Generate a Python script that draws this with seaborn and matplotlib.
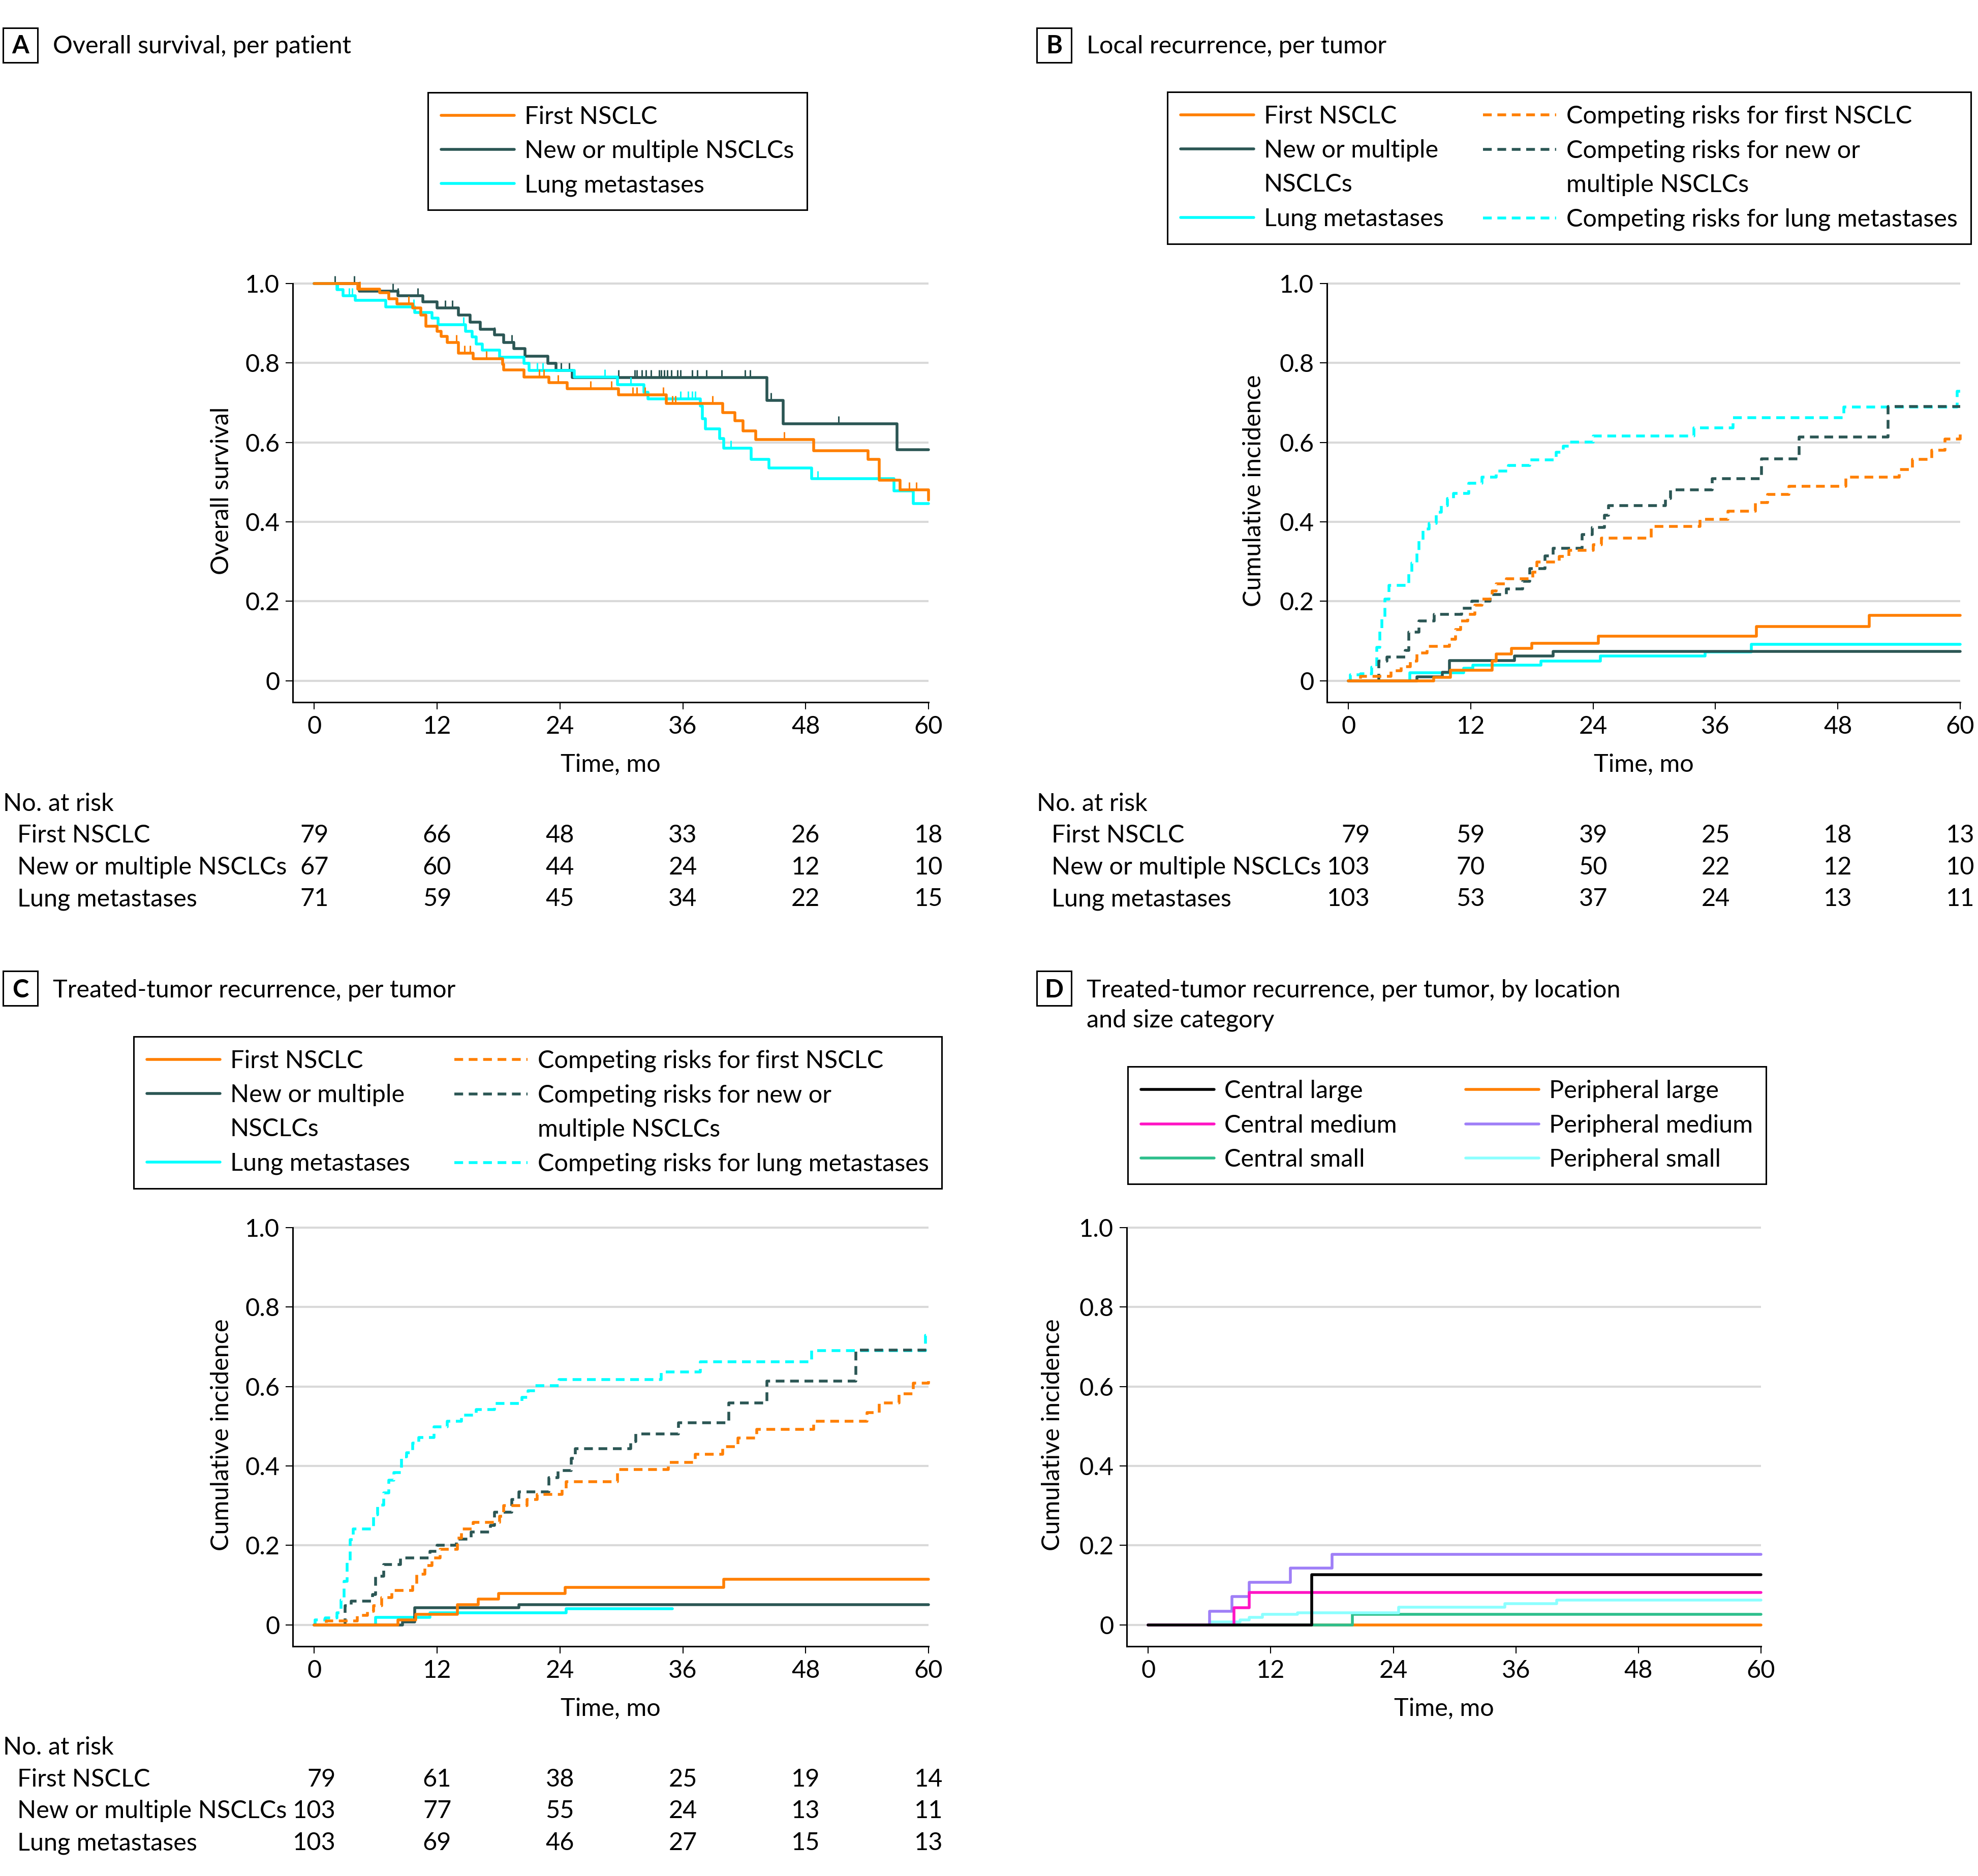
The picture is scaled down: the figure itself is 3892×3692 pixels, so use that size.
# ==============================
# 1. IMPORTS
# ==============================
import numpy as np
import matplotlib
matplotlib.use("Agg")
import matplotlib.pyplot as plt
import matplotlib.transforms as mtransforms
from matplotlib.lines import Line2D
from matplotlib.patches import Rectangle
import seaborn as sns

sns.set_theme(style="white")
plt.rcParams['font.family'] = ['Lato', 'DejaVu Sans']
plt.rcParams['text.color'] = 'black'

# ==============================
# 2. DATA
# ==============================
TICKS_X = [0, 12, 24, 36, 48, 60]
TICKS_Y = [0, 0.2, 0.4, 0.6, 0.8, 1.0]
TICK_Y_LABELS = ["0", "0.2", "0.4", "0.6", "0.8", "1.0"]
GROUPS = ["First NSCLC", "New or multiple NSCLCs", "Lung metastases"]

# A. overall survival (Kaplan-Meier), step times and survival after each step
a_first_t = [0, 4.25, 6.4, 7.3, 8.1, 9.6, 10.4, 10.9, 12.0, 12.4, 13.0, 14.1, 15.5, 18.4, 18.5,
             20.5, 22.9, 24.7, 29.7, 34.4, 39.9, 41.1, 41.9, 43.1, 48.8, 54.1, 55.2, 57.2, 60]
a_first_s = [1.0, 0.986, 0.977, 0.962, 0.948, 0.938, 0.920, 0.892, 0.879, 0.867, 0.852, 0.825, 0.811,
             0.797, 0.783, 0.765, 0.750, 0.735, 0.720, 0.698, 0.675, 0.654, 0.629, 0.607, 0.579,
             0.557, 0.505, 0.481, 0.455]
a_first_cens = [4.45, 9.2, 13.9, 14.7, 15.2, 16.8, 22.0, 22.4, 23.8, 27.0, 29.0, 31.1, 31.5, 32.3,
                34.1, 35.0, 35.3, 38.9, 45.9, 55.2, 58.1, 58.8]

a_new_t = [0, 4.4, 8.2, 10.6, 12.0, 14.1, 15.2, 16.2, 17.6, 18.5, 19.5, 20.6, 22.8, 23.6, 25.2,
           44.2, 45.8, 56.9, 60]
a_new_s = [1.0, 0.981, 0.969, 0.954, 0.938, 0.920, 0.903, 0.885, 0.870, 0.851, 0.836, 0.817, 0.799,
           0.781, 0.763, 0.706, 0.647, 0.582, 0.582]
a_new_cens = [2.0, 3.9, 7.7, 8.2, 10.1, 12.8, 13.5, 17.6, 19.3, 19.5, 24.1, 24.9, 29.7, 31.3, 31.5,
              32.0, 32.4, 32.9, 33.7, 33.9, 34.2, 34.5, 34.9, 35.5, 35.8, 36.9, 37.4, 38.3, 39.8,
              42.1, 42.6, 44.6, 51.2]

a_lung_t = [0, 2.2, 2.8, 4.0, 7.0, 9.8, 11.5, 12.1, 14.8, 15.4, 15.8, 16.4, 18.1, 20.5, 21.0, 25.4,
            29.6, 32.2, 32.6, 37.7, 37.9, 38.2, 39.6, 40.0, 42.7, 44.4, 48.6, 56.6, 58.5, 60]
a_lung_s = [1.0, 0.985, 0.969, 0.957, 0.941, 0.927, 0.913, 0.896, 0.879, 0.865, 0.847, 0.832, 0.814,
            0.799, 0.781, 0.765, 0.745, 0.726, 0.709, 0.691, 0.660, 0.634, 0.610, 0.585, 0.557,
            0.535, 0.509, 0.478, 0.446, 0.446]
a_lung_cens = [2.3, 3.4, 3.7, 9.7, 14.6, 21.8, 22.3, 28.4, 30.9, 35.8, 36.5, 36.9, 37.2, 40.7,
               49.2, 58.1]

a_risk_first = [79, 66, 48, 33, 26, 18]
a_risk_new = [67, 60, 44, 24, 12, 10]
a_risk_lung = [71, 59, 45, 34, 22, 15]

# B. local recurrence, cumulative incidence
b_first_t = [0, 8.35, 10.0, 14.1, 14.5, 16.0, 18.0, 24.5, 40.0, 51.1, 60]
b_first_y = [0, 0.009, 0.027, 0.049, 0.067, 0.082, 0.094, 0.112, 0.137, 0.165, 0.165]
b_new_t = [0, 6.7, 9.2, 9.9, 16.3, 20.1, 60]
b_new_y = [0, 0.010, 0.022, 0.051, 0.063, 0.074, 0.074]
b_lung_t = [0, 6.0, 11.3, 12.2, 18.9, 24.7, 35.0, 39.5, 60]
b_lung_y = [0, 0.020, 0.032, 0.039, 0.049, 0.062, 0.072, 0.092, 0.092]

b_cr_first_t = [0, 1.2, 4.2, 5.2, 6.05, 6.7, 7.7, 9.9, 10.5, 11.0, 11.7, 12.4, 13.1, 14.1, 14.5,
                15.5, 18.1, 18.5, 20.7, 21.6, 24.0, 24.8, 29.7, 34.5, 37.2, 39.9, 41.1, 43.2, 48.8,
                54.0, 55.3, 57.2, 58.5, 60]
b_cr_first_y = [0, 0.011, 0.025, 0.035, 0.049, 0.070, 0.087, 0.105, 0.129, 0.150, 0.167, 0.190,
                0.205, 0.226, 0.244, 0.257, 0.273, 0.299, 0.313, 0.328, 0.342, 0.359, 0.389, 0.407,
                0.427, 0.448, 0.469, 0.490, 0.513, 0.532, 0.557, 0.580, 0.608, 0.624]
b_cr_new_t = [0, 3.0, 3.8, 5.6, 5.9, 6.9, 8.4, 11.1, 12.1, 13.9, 15.5, 17.1, 17.8, 19.3, 20.1,
              22.9, 23.9, 25.1, 25.5, 31.1, 31.6, 35.7, 40.5, 44.2, 52.9, 60]
b_cr_new_y = [0, 0.049, 0.060, 0.077, 0.122, 0.150, 0.167, 0.183, 0.201, 0.217, 0.231, 0.251,
              0.282, 0.314, 0.334, 0.368, 0.386, 0.417, 0.441, 0.459, 0.481, 0.509, 0.559, 0.613,
              0.690, 0.690]
b_cr_lung_t = [0, 0.2, 1.2, 2.3, 2.8, 3.1, 3.3, 3.6, 4.0, 5.9, 6.2, 6.7, 6.9, 7.3, 7.9, 8.6, 9.1,
               9.7, 10.3, 11.8, 13.1, 14.5, 15.7, 17.8, 20.4, 21.1, 21.7, 24.0, 33.9, 37.7, 48.6,
               59.7, 60]
b_cr_lung_y = [0, 0.015, 0.018, 0.034, 0.084, 0.126, 0.160, 0.205, 0.240, 0.271, 0.296, 0.323,
               0.355, 0.382, 0.396, 0.424, 0.441, 0.459, 0.471, 0.497, 0.513, 0.528, 0.542, 0.556,
               0.575, 0.591, 0.601, 0.616, 0.636, 0.662, 0.689, 0.729, 0.729]

b_risk_first = [79, 59, 39, 25, 18, 13]
b_risk_new = [103, 70, 50, 22, 12, 10]
b_risk_lung = [103, 53, 37, 24, 13, 11]

# C. treated-tumor recurrence, cumulative incidence
c_first_t = [0, 8.2, 9.9, 14.0, 16.0, 18.0, 24.5, 40.0, 60]
c_first_y = [0, 0.013, 0.027, 0.051, 0.065, 0.079, 0.094, 0.115, 0.115]
c_new_t = [0, 8.6, 9.8, 20.0, 60]
c_new_y = [0, 0.008, 0.043, 0.051, 0.051]
c_lung_t = [0, 6.0, 11.3, 24.6, 35.0]
c_lung_y = [0, 0.019, 0.031, 0.041, 0.041]

c_cr_first_t = [0, 1.2, 4.2, 5.2, 5.8, 6.6, 7.6, 9.6, 10.0, 10.8, 11.5, 12.3, 14.0, 14.4, 15.5,
                18.1, 18.5, 20.8, 21.8, 24.2, 24.6, 29.6, 34.6, 37.2, 39.9, 41.4, 43.2, 48.8, 54.0,
                55.2, 57.1, 58.5, 60]
c_cr_first_y = [0, 0.010, 0.024, 0.034, 0.048, 0.069, 0.087, 0.103, 0.128, 0.149, 0.168, 0.190,
                0.218, 0.242, 0.258, 0.273, 0.300, 0.315, 0.329, 0.344, 0.360, 0.391, 0.409, 0.430,
                0.449, 0.470, 0.492, 0.513, 0.534, 0.558, 0.582, 0.609, 0.622]
c_cr_new_t = [0, 3.0, 3.6, 5.7, 6.0, 6.8, 8.4, 11.3, 12.0, 13.9, 15.3, 17.2, 17.6, 19.3, 20.0,
              22.9, 23.8, 25.1, 25.5, 30.9, 31.4, 35.6, 40.5, 44.2, 52.9, 60]
c_cr_new_y = [0, 0.048, 0.060, 0.077, 0.123, 0.152, 0.168, 0.185, 0.201, 0.216, 0.234, 0.251,
              0.284, 0.315, 0.335, 0.371, 0.388, 0.419, 0.443, 0.461, 0.481, 0.509, 0.559, 0.613,
              0.691, 0.691]
c_cr_lung_t = [0, 0.1, 1.1, 2.2, 2.6, 2.9, 3.2, 3.5, 3.8, 5.8, 6.2, 6.8, 7.3, 7.8, 8.5, 9.0, 9.6,
               10.2, 11.7, 13.0, 14.4, 15.8, 17.6, 20.3, 20.9, 21.6, 23.9, 33.9, 37.7, 48.6, 59.7, 60]
c_cr_lung_y = [0, 0.013, 0.017, 0.031, 0.062, 0.110, 0.159, 0.214, 0.242, 0.277, 0.301, 0.332,
               0.364, 0.384, 0.423, 0.433, 0.457, 0.471, 0.499, 0.513, 0.528, 0.542, 0.557, 0.572,
               0.589, 0.602, 0.617, 0.636, 0.662, 0.690, 0.729, 0.729]

c_risk_first = [79, 61, 38, 25, 19, 14]
c_risk_new = [103, 77, 55, 24, 13, 11]
c_risk_lung = [103, 69, 46, 27, 15, 13]

# D. treated-tumor recurrence by location and size
D_LABELS = ["Central large", "Central medium", "Central small",
            "Peripheral large", "Peripheral medium", "Peripheral small"]
d_cl_t, d_cl_y = [0, 16.0, 60], [0, 0.126, 0.126]
d_cm_t, d_cm_y = [0, 8.4, 9.9, 60], [0, 0.043, 0.081, 0.081]
d_cs_t, d_cs_y = [0, 20.0, 60], [0, 0.026, 0.026]
d_pl_t, d_pl_y = [0, 60], [0, 0]
d_pm_t = [0, 6.0, 8.2, 9.9, 13.9, 18.0, 60]
d_pm_y = [0, 0.034, 0.071, 0.107, 0.143, 0.178, 0.178]
d_ps_t = [0, 6.0, 9.0, 9.9, 11.2, 14.6, 24.5, 34.9, 40.0, 60]
d_ps_y = [0, 0.008, 0.013, 0.019, 0.026, 0.031, 0.044, 0.053, 0.063, 0.063]

# ==============================
# 3. STYLE
# ==============================
W, H = 3892, 3692
FS = 35
LW = 4
DASH = (0, (3.1, 2.0))
GRID = "#D9D9D9"
ORANGE, DARK, CYAN = "#FF7F00", "#2B5654", "#00FFFF"
D_COLORS = ["#000000", "#FF14C4", "#2EBF8C", "#FF7F00", "#9F7FF7", "#8CFFFF"]
DIGIT_MO = 1.40   # width of one digit in months, used to right-align the first risk column

fig = plt.figure(figsize=(W / 100, H / 100), dpi=100)


def fx(px):
    return px / W


def fy(py):
    return 1 - py / H


def add_axes(left, right, top, bottom):
    return fig.add_axes([fx(left), fy(bottom), (right - left) / W, (bottom - top) / H])


def style_axes(ax, ylabel, ylab_x):
    ax.set_xlim(-2.1, 60)
    ax.set_ylim(-0.054, 1.01)
    ax.set_xticks(TICKS_X)
    ax.set_yticks(TICKS_Y)
    ax.set_yticklabels(TICK_Y_LABELS)
    ax.yaxis.grid(True, color=GRID, lw=3)
    ax.xaxis.grid(False)
    ax.set_axisbelow(True)
    sns.despine(ax=ax)
    ax.spines['left'].set_bounds(-0.054, 1.0)
    for s in ('left', 'bottom'):
        ax.spines[s].set_linewidth(2.2)
        ax.spines[s].set_color('black')
    ax.tick_params(axis='both', direction='out', length=10, width=1.5, color='black',
                   pad=8.5, labelsize=FS, labelcolor='black', left=True, bottom=True)
    ax.set_xlabel("Time, mo", fontsize=FS, color='black')
    ax.set_ylabel(ylabel, fontsize=FS, color='black')
    ax.xaxis.set_label_coords(0.5, -0.121)
    ax.yaxis.set_label_coords(ylab_x, 0.5)


def step(ax, t, y, color, ls='-', z=3):
    sns.lineplot(x=t, y=y, ax=ax, color=color, lw=LW, linestyle=ls,
                 drawstyle='steps-post', estimator=None, sort=False,
                 legend=False, clip_on=False, zorder=z)


def censor(ax, t, y, cens, color, z=3):
    t, y = np.asarray(t), np.asarray(y)
    idx = np.searchsorted(t, cens, side='right') - 1
    ax.plot(cens, y[idx], ls='none', marker=2, ms=11, mew=2.2, color=color,
            clip_on=False, zorder=z)


def panel_label(letter, box_left, box_top, title, base):
    fig.patches.append(Rectangle((fx(box_left), fy(box_top + 68)), 68 / W, 68 / H,
                                 transform=fig.transFigure, fill=False, ec='black',
                                 lw=2.2, figure=fig))
    fig.text(fx(box_left + 34), fy(base), letter, ha='center', va='baseline',
             fontweight='bold', fontsize=FS)
    fig.text(fx(box_left + 98), fy(base), title, ha='left', va='baseline', fontsize=FS)


def make_legend(ax, handles, labels, left, top, ncol=1, colspace=2.0):
    leg = ax.legend(handles, labels, loc='upper left', bbox_to_anchor=(fx(left), fy(top)),
                    bbox_transform=fig.transFigure, ncol=ncol, fontsize=FS, frameon=True,
                    fancybox=False, shadow=False, framealpha=1, edgecolor='black',
                    borderpad=0.53, borderaxespad=0, handlelength=2.96, handletextpad=0.41,
                    labelspacing=0.48, columnspacing=colspace)
    leg.get_frame().set_linewidth(2.2)
    return leg


def risk_table(ax, rows, head_x, row_x, head_base, row_bases):
    trans = mtransforms.blended_transform_factory(ax.transData, fig.transFigure)
    fig.text(fx(head_x), fy(head_base), "No. at risk", va='baseline', fontsize=FS)
    widest = max(len(str(r[0])) for r in rows)
    for name, counts, yb in zip(GROUPS, rows, row_bases):
        fig.text(fx(row_x), fy(yb), name, va='baseline', fontsize=FS)
        for j, (t, n) in enumerate(zip(TICKS_X, counts)):
            if j == 0:
                ax.text(t + DIGIT_MO * widest / 2, fy(yb), str(n), transform=trans,
                        ha='right', va='baseline', fontsize=FS)
            else:
                ax.text(t, fy(yb), str(n), transform=trans, ha='center',
                        va='baseline', fontsize=FS)


solid = lambda c: Line2D([], [], color=c, lw=LW)
dashed = lambda c: Line2D([], [], color=c, lw=LW, linestyle=DASH)
blank = Line2D([], [], color='none', lw=0)
CR_LABELS = ["First NSCLC", "New or multiple", "NSCLCs", "Lung metastases",
             "Competing risks for first NSCLC", "Competing risks for new or",
             "multiple NSCLCs", "Competing risks for lung metastases"]
CR_HANDLES = [solid(ORANGE), solid(DARK), blank, solid(CYAN),
              dashed(ORANGE), dashed(DARK), blank, dashed(CYAN)]

# ==============================
# 4. PANEL A
# ==============================
ax_a = add_axes(576, 1827, 550, 1382)
style_axes(ax_a, "Overall survival", -0.094)
step(ax_a, a_new_t, a_new_s, DARK, z=3)
step(ax_a, a_lung_t, a_lung_s, CYAN, z=4)
step(ax_a, a_first_t, a_first_s, ORANGE, z=5)
censor(ax_a, a_new_t, a_new_s, a_new_cens, DARK, z=3)
censor(ax_a, a_lung_t, a_lung_s, a_lung_cens, CYAN, z=4)
censor(ax_a, a_first_t, a_first_s, a_first_cens, ORANGE, z=5)
make_legend(ax_a, [solid(ORANGE), solid(DARK), solid(CYAN)], GROUPS, 842, 182)
panel_label("A", 6, 55, "Overall survival, per patient", 105)
risk_table(ax_a, [a_risk_first, a_risk_new, a_risk_lung], 6, 34, 1596, [1658, 1721, 1783])

# ==============================
# 5. PANEL B
# ==============================
ax_b = add_axes(2611, 3857, 550, 1382)
style_axes(ax_b, "Cumulative incidence", -0.098)
step(ax_b, b_cr_lung_t, b_cr_lung_y, CYAN, DASH, z=3)
step(ax_b, b_cr_new_t, b_cr_new_y, DARK, DASH, z=4)
step(ax_b, b_cr_first_t, b_cr_first_y, ORANGE, DASH, z=5)
step(ax_b, b_lung_t, b_lung_y, CYAN, z=6)
step(ax_b, b_new_t, b_new_y, DARK, z=7)
step(ax_b, b_first_t, b_first_y, ORANGE, z=8)
make_legend(ax_b, CR_HANDLES, CR_LABELS, 2297, 181, ncol=2, colspace=1.6)
panel_label("B", 2040, 55, "Local recurrence, per tumor", 105)
risk_table(ax_b, [b_risk_first, b_risk_new, b_risk_lung], 2040, 2069, 1596, [1658, 1721, 1783])

# ==============================
# 6. PANEL C
# ==============================
ax_c = add_axes(576, 1827, 2408, 3240)
style_axes(ax_c, "Cumulative incidence", -0.094)
step(ax_c, c_cr_lung_t, c_cr_lung_y, CYAN, DASH, z=3)
step(ax_c, c_cr_new_t, c_cr_new_y, DARK, DASH, z=4)
step(ax_c, c_cr_first_t, c_cr_first_y, ORANGE, DASH, z=5)
step(ax_c, c_lung_t, c_lung_y, CYAN, z=6)
step(ax_c, c_new_t, c_new_y, DARK, z=7)
step(ax_c, c_first_t, c_first_y, ORANGE, z=8)
make_legend(ax_c, CR_HANDLES, CR_LABELS, 263, 2040, ncol=2, colspace=1.8)
panel_label("C", 6, 1911, "Treated-tumor recurrence, per tumor", 1963)
risk_table(ax_c, [c_risk_first, c_risk_new, c_risk_lung], 6, 34, 3453, [3516, 3578, 3641])

# ==============================
# 7. PANEL D
# ==============================
ax_d = add_axes(2217, 3465, 2408, 3240)
style_axes(ax_d, "Cumulative incidence", -0.099)
d_series = [(d_cl_t, d_cl_y), (d_cm_t, d_cm_y), (d_cs_t, d_cs_y),
            (d_pl_t, d_pl_y), (d_pm_t, d_pm_y), (d_ps_t, d_ps_y)]
d_order = [3, 2, 5, 4, 1, 0]   # drawing order, last on top
for z, i in enumerate(d_order):
    step(ax_d, d_series[i][0], d_series[i][1], D_COLORS[i], z=3 + z)
make_legend(ax_d, [solid(c) for c in D_COLORS], D_LABELS, 2219, 2099, ncol=2, colspace=2.8)
panel_label("D", 2040, 1911, "Treated-tumor recurrence, per tumor, by location", 1963)
fig.text(fx(2138), fy(2021), "and size category", ha='left', va='baseline', fontsize=FS)

# ==============================
# 8. SAVE
# ==============================
fig.savefig("out.png", dpi=100, facecolor='white')
